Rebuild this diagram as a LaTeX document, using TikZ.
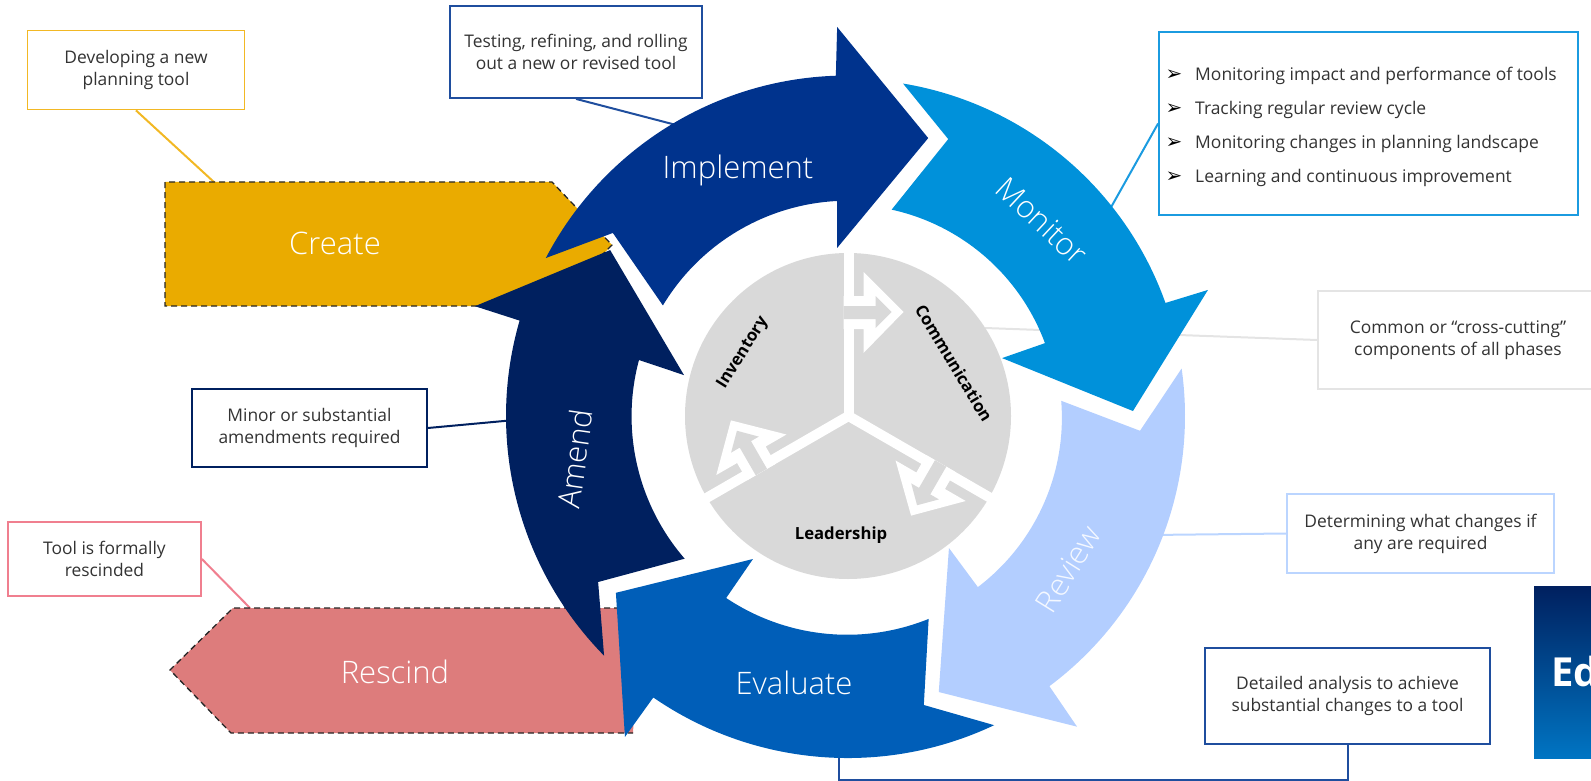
\documentclass[tikz,border=0pt]{standalone}
\usepackage{fontspec}
\setmainfont{Open Sans}
\newfontfamily\symf{DejaVu Sans}
\newfontfamily\lightf{Open Sans Light}
\usetikzlibrary{shadings}
\definecolor{cCreate}{HTML}{EAAB00}
\definecolor{cRescind}{HTML}{DD7C7C}
\definecolor{cAmend}{HTML}{00205F}
\definecolor{cImpl}{HTML}{00338D}
\definecolor{cMon}{HTML}{0091DA}
\definecolor{cRev}{HTML}{B3CEFF}
\definecolor{cEval}{HTML}{005EB8}
\definecolor{cGrey}{HTML}{D9D9D9}
\definecolor{cTxt}{HTML}{333333}
\definecolor{cGold}{HTML}{F2B824}
\definecolor{cPink}{HTML}{F07F8F}
\definecolor{cLine}{HTML}{1F4E9E}
\definecolor{cSky}{HTML}{1B9BE0}
\definecolor{cPale}{HTML}{BBD5FF}
\definecolor{cEdge}{HTML}{E4E4E4}
\tikzset{
  note/.style={draw=#1,fill=white,line width=1.8pt,inner sep=0pt,align=center,text=cTxt,
     font=\fontsize{17.4}{22}\selectfont},
  link/.style={draw=#1,line width=2pt},
  phase/.style={text=white,font=\lightf\fontsize{31}{34}\selectfont},
  core/.style={text=black,font=\fontsize{16.7}{18}\selectfont\bfseries},
  bulletline/.style={anchor=west,text=cTxt,inner sep=0pt,font=\fontsize{17.45}{20}\selectfont},
  bulletmark/.style={anchor=center,text=black,inner sep=0pt,font=\symf\fontsize{20}{20}\selectfont},
  dashedge/.style={draw=black!85,line width=1.3pt,dash pattern=on 6pt off 4pt},
  ring/.style={shift={(848,416)},x=1pt,y=1pt}
}
\newcommand{\corearm}[1]{%
  \begin{scope}[shift={(848.5,416)},x=1pt,y=-1pt,rotate=#1]
    \fill[white] (-5,0) rectangle (5,-172);
  \end{scope}}
\newcommand{\corehead}[1]{%
  \begin{scope}[shift={(848.5,416)},x=1pt,y=-1pt,rotate=#1]
    \fill[white] (15,-120) -- (15,-144) -- (55,-104) -- (15,-63) -- (15,-87) -- (-5,-87) -- (-5,-120) -- cycle;
    \fill[cGrey] (-5,-110) -- (27,-110) -- (27,-120) -- (43,-104) -- (27,-88) -- (27,-97) -- (-5,-97) -- cycle;
  \end{scope}}
\begin{document}
\begin{tikzpicture}[x=1pt,y=-1pt]
\useasboundingbox (0,0) rectangle (1591,781);
% logo
\begin{scope}
  \clip (1534,586) rectangle (1591,758);
  \shade[top color=cAmend,bottom color=cMon!70!cImpl] (1534,586) rectangle (1591,758);
  \node[anchor=west,inner sep=0pt,text=white,font=\fontsize{40}{42}\selectfont\bfseries] (logo) at (1551,671) {Ed};
\end{scope}
% notes
\node[note=cGold,minimum width=217pt,minimum height=79pt] (devbox) at (136,70) {Developing a new\\planning tool};
\node[note=cLine,minimum width=252pt,minimum height=92pt] (testbox) at (576,52) {Testing, refining, and rolling\\out a new or revised tool};
\node[note=cSky,minimum width=419pt,minimum height=183pt] (monbox) at (1368.5,123.5) {};
\node[note=cEdge,minimum width=280pt,minimum height=98pt] (commonbox) at (1458,340) {Common or “cross-cutting”\\components of all phases};
\node[note=cPale,minimum width=267pt,minimum height=79pt] (detbox) at (1420.5,533.5) {Determining what changes if\\any are required};
\node[note=cLine,minimum width=285pt,minimum height=96pt] (anabox) at (1347.5,696) {Detailed analysis to achieve\\substantial changes to a tool};
\node[note=cAmend,minimum width=235pt,minimum height=78pt] (ambox) at (309.5,428) {Minor or substantial\\amendments required};
\node[note=cPink,minimum width=193pt,minimum height=74pt] (resbox) at (104.5,559) {Tool is formally\\rescinded};
% bullet text
\foreach \yy/\tt in {75.5/Monitoring impact and performance of tools,109.5/Tracking regular review cycle,143.5/Monitoring changes in planning landscape,177.5/Learning and continuous improvement}{
  \node[bulletmark] at (1174,\yy) {➢};
  \node[bulletline] at (1195,\yy) {\tt};
}
% free connector ends
\coordinate (eDev) at (215,183);
\coordinate (eTest) at (680,126);
\coordinate (eMon) at (1105,218);
\coordinate (eCommon) at (985,328);
\coordinate (eDet) at (1150,535);
\coordinate (eAna) at (839,750);
\coordinate (eAm) at (515,420);
\coordinate (eRes) at (250,608);
\draw[link=cGold] (devbox.south) -- (eDev);
\draw[link=cLine] (testbox.south) -- (eTest);
\draw[link=cSky] (monbox.west) -- (eMon);
\draw[link=cEdge] (commonbox.west) -- (eCommon);
\draw[link=cPale] (detbox.west) -- (eDet);
\draw[link=cLine] (anabox.south) |- (839,780) -- (eAna);
\draw[link=cAmend] (ambox.east) -- (eAm);
\draw[link=cPink] (resbox.east) -- (eRes);
% side phases
\path[fill=cCreate] (165,182) -- (552,182) -- (612,245) -- (600,257) -- (477,306) -- (165,306) -- cycle;
\draw[dashedge] (477,306) -- (165,306) -- (165,182) -- (552,182) -- (612,245) -- (600,257);
\path[fill=cRescind] (170,670) -- (233,608) -- (640,608) -- (633,733) -- (231,733) -- cycle;
\draw[dashedge] (640,608) -- (233,608) -- (170,670) -- (231,733) -- (633,733);
% core circle
\fill[cGrey] (848,416) circle[radius=163pt];
\corearm{0}\corearm{120}\corearm{240}
\corehead{0}\corehead{120}\corehead{240}
% ring
\begin{scope}[ring]
\fill[cAmend] (224.5:342pt) arc[start angle=224.5,end angle=163.8,radius=342pt]
  -- (163.6:388.9pt) -- (145.1:290pt) -- (166:169pt) -- (165:216.4pt)
  arc[start angle=165,end angle=220.9,radius=217.5pt] -- (213.6:300pt) -- cycle;
\fill[cImpl] (152.4:341pt) arc[start angle=152.4,end angle=91.9,radius=340pt]
  -- (91.6:389.2pt) -- (73.9:289.3pt) -- (93.7:168.4pt) -- (92.9:215.3pt)
  arc[start angle=92.9,end angle=149,radius=216pt] -- (142.1:298pt) -- cycle;
\fill[cMon] (80.6:337pt) arc[start angle=80.6,end angle=19.6,radius=337pt]
  -- (19.3:381.4pt) -- (1:285pt) -- (20.6:164.6pt) -- (20.3:210pt)
  arc[start angle=20.3,end angle=77.6,radius=212pt] -- (70.1:294.5pt) -- cycle;
\fill[cRev] (8.1:337pt) arc[start angle=8.1,end angle=-53.3,radius=337pt]
  -- (-53.6:386pt) -- (-71.8:290.6pt) -- (-52.6:166.2pt) -- (-52.8:214.8pt)
  arc[start angle=-52.8,end angle=4.6,radius=212.5pt] -- (-2.9:292.4pt) -- cycle;
\fill[cEval] (-64.7:342pt) arc[start angle=-64.7,end angle=-124.6,radius=342.5pt]
  -- (-124.8:390.9pt) -- (-142.7:291.8pt) -- (-123.6:171.7pt) -- (-123.8:219pt)
  arc[start angle=-123.8,end angle=-68,radius=217.5pt] -- (-75.3:298.8pt) -- cycle;
\end{scope}
% labels
\node[phase] (tImpl) at (738,170) {Implement};
\node[phase,rotate=-43] (tMon) at (1042,221) {Monitor};
\node[phase,rotate=58,text=white!85!cRev] (tRev) at (1068,569) {Review};
\node[phase] (tEval) at (794,683) {Evaluate};
\node[phase,rotate=82] (tAm) at (575,459) {Amend};
\node[phase] (tCr) at (335,243) {Create};
\node[phase] (tRe) at (395,671.5) {Rescind};
\node[core,rotate=58] (tInv) at (743,353) {Inventory};
\node[core,rotate=-59] (tCom) at (954,363) {Communication};
\node[core] (tLead) at (841,535) {Leadership};
\end{tikzpicture}
\end{document}
